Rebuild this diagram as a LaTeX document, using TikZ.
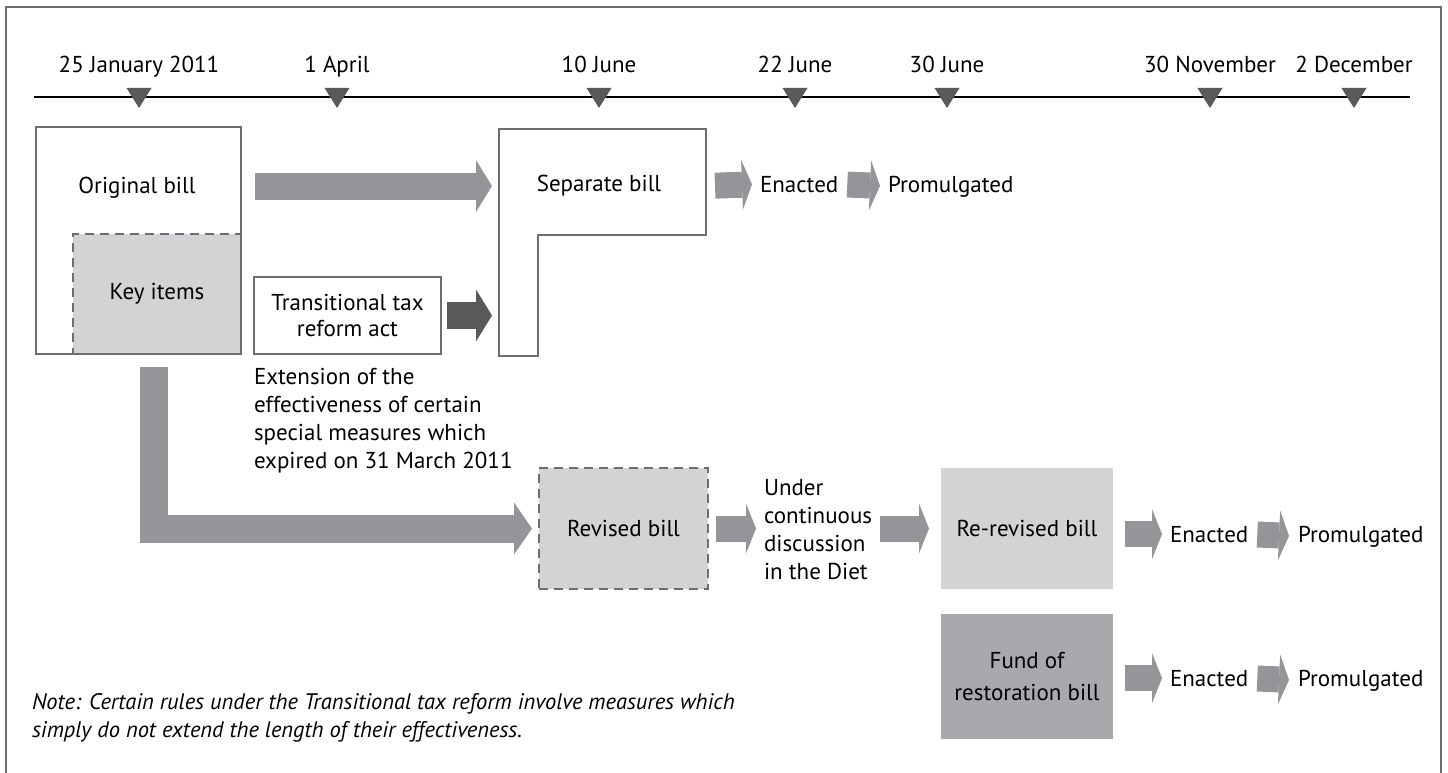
\documentclass[tikz,border=0pt]{standalone}
\usepackage{fontspec}
\setmainfont{PT Sans}
\usetikzlibrary{arrows.meta,positioning}
\definecolor{arrowgrey}{HTML}{939598}
\definecolor{darkgrey}{HTML}{58595B}
\definecolor{boxline}{HTML}{6D6E71}
\definecolor{lightfill}{HTML}{D1D3D4}
\definecolor{midfill}{HTML}{A7A9AC}
\begin{document}
\begin{tikzpicture}[x=1pt, y=-1pt,
    every node/.style = {font=\fontsize{23}{28}\selectfont},
    bill/.style = {rectangle, draw=boxline, line width=2pt, inner sep=0pt, outer sep=0pt},
    keybox/.style = {bill, fill=lightfill, dash pattern=on 9pt off 6pt},
    shade/.style = {rectangle, inner sep=0pt, outer sep=0pt},
    txt/.style = {inner sep=0pt, outer sep=0pt, anchor=base west},
    big/.style = {draw=arrowgrey, line width=27pt, -{Triangle[length=16pt, width=52pt, line width=0pt]}},
    small/.style = {draw=arrowgrey, line width=26pt, -{Triangle[length=10pt, width=50pt, line width=0pt]}}
]
    \useasboundingbox (0,0) rectangle (1448,773);
    % frame and time line
    \draw[boxline, line width=2pt] (6,773) -- (6,7) -- (1441,7) -- (1441,773);
    \draw[line width=2.5pt] (34,97) -- (1410,97);
    \foreach \x/\d [count=\i] in {139/25 January 2011, 337/1 April, 599/10 June, 795/22 June, 947/30 June, 1210/30 November, 1354/2 December} {
        \fill[darkgrey] (\x-12.5,88) -- (\x+12.5,88) -- (\x,108) -- cycle;
        \node[anchor=base] (day\i) at (\x,73) {\d};
    }

    % Nodes
    \node[keybox, minimum width=168pt, minimum height=120pt] (key) at (157,294) {Key items};
    \node[bill, minimum width=205pt, minimum height=227pt] (orig) at (138.5,240.5) {};
    \node[txt, anchor=base] (origlbl) at (137,193) {Original bill};
    \node[bill, minimum width=187pt, minimum height=77pt, align=center, font=\fontsize{23}{25.5}\selectfont] (trans) at (347.5,315.5) {Transitional tax\\reform act};
    \node[txt, anchor=north west, align=left] (extn) at (254,368.5) {Extension of the\\effectiveness of certain\\special measures which\\expired on 31 March 2011};

    \draw[bill] (499,129) -| (706,235) -| (538,356) -| cycle;
    \coordinate (sepin) at (499,186);
    \coordinate (sepout) at (706,186);
    \node (sepbill) at (599,186) {Separate bill};

    \node[keybox, minimum width=169pt, minimum height=121pt] (revised) at (623.5,528.5) {Revised bill};
    \node[txt, anchor=west, align=left] (diet) at (764,530) {Under\\continuous\\discussion\\in the Diet};
    \node[shade, fill=lightfill, minimum width=172pt, minimum height=121pt] (rerev) at (1027,528.5) {Re-revised bill};
    \node[shade, fill=midfill, minimum width=172pt, minimum height=125pt, align=center, font=\fontsize{23}{32}\selectfont] (fund) at (1027,676.5) {Fund of\\restoration bill};

    \node[txt] (enact1) at (760,192) {Enacted};
    \node[txt] (prom1) at (888,192) {Promulgated};
    \node[txt] (enact2) at (1170,542) {Enacted};
    \node[txt] (prom2) at (1298,542) {Promulgated};
    \node[txt] (enact3) at (1170,686) {Enacted};
    \node[txt] (prom3) at (1298,686) {Promulgated};

    \node[txt, anchor=north west, align=left, font=\fontsize{22.5}{28}\itshape] (note) at (32,693.5) {Note: Certain rules under the Transitional tax reform involve measures which\\simply do not extend the length of their effectiveness.};

    % Edges
    \coordinate (keyout) at (154,367);
    \path[big] (orig.east |- sepin) -- (sepin) [shorten <=14pt, shorten >=7pt];
    \path[big, draw=darkgrey] (trans.east) -- (trans.east -| sepin) [shorten <=6pt, shorten >=7pt];
    \path[big, line width=28pt, -{Triangle[length=18pt, width=52pt, line width=0pt]}] (keyout) |- (revised.west) [shorten >=7pt];

    \path[small] (sepout) -- (enact1.west) [shorten <=9pt, shorten >=8pt];
    \path[small] (enact1.east) -- (prom1.west) [shorten <=9pt, shorten >=8pt];

    \path[small] (revised.east) -- (diet.west |- revised.east) [shorten <=8pt, shorten >=8pt];
    \path[small] (diet.east |- rerev.west) -- (rerev.west) [shorten <=8pt, shorten >=12pt];

    \path[small] (rerev.east |- enact2.west) -- (enact2.west) [shorten <=12pt, shorten >=8pt];
    \path[small] (enact2.east) -- (prom2.west) [shorten <=9pt, shorten >=9pt];
    \path[small] (fund.east |- enact3.west) -- (enact3.west) [shorten <=12pt, shorten >=8pt];
    \path[small] (enact3.east) -- (prom3.west) [shorten <=9pt, shorten >=9pt];

\end{tikzpicture}
\end{document}
